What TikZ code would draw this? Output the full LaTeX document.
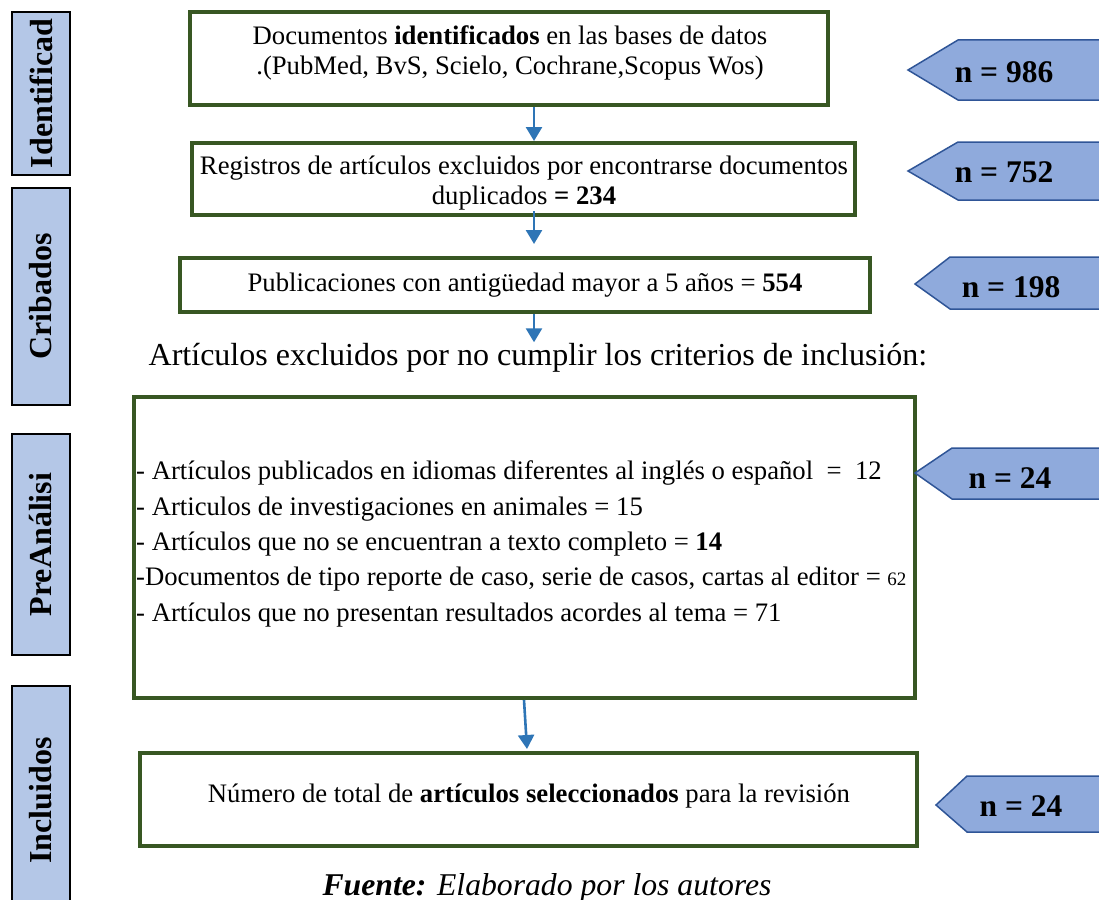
\documentclass[tikz,border=0pt]{standalone}
\usepackage{fontspec}
\setmainfont{Liberation Serif}
\usetikzlibrary{arrows.meta,calc}
\definecolor{boxgreen}{HTML}{385723}
\definecolor{lblfill}{HTML}{B4C7E7}
\definecolor{tagfill}{HTML}{8FAADC}
\definecolor{tagdraw}{HTML}{2F5597}
\definecolor{connblue}{HTML}{2E75B6}
\tikzset{
 gbox/.style={draw=boxgreen, line width=4pt, inner sep=0pt, rectangle},
 btext/.style={font=\fontsize{26.7}{30}\selectfont, align=center, inner sep=0pt},
 lbl/.style={draw=black, line width=1.5pt, fill=lblfill, rotate=90, inner sep=0pt, font=\fontsize{32}{34}\selectfont\bfseries},
 tag/.style={fill=tagfill, draw=tagdraw, line width=1.5pt, line join=miter},
 tagtext/.style={font=\fontsize{31.5}{34}\selectfont\bfseries, inner sep=0pt},
 conn/.style={draw=connblue, line width=2.6pt, -{Triangle[length=14pt,width=16pt]}},
}
\begin{document}
\begin{tikzpicture}[x=1pt,y=-1pt]
\useasboundingbox (0,0) rectangle (1099,899);
% left stage labels
\node[lbl, minimum width=163, minimum height=58] (lid) at (41,93.5) {Identificad};
\node[lbl, minimum width=217, minimum height=58] (lcr) at (41,296.5) {Cribados};
\node[lbl, minimum width=221, minimum height=58] (lpre) at (41,544.5) {PreAnálisi};
\node[lbl, minimum width=229, minimum height=58] (linc) at (41,800.5) {Incluidos};
% green boxes
\node[gbox, minimum width=638, minimum height=93] (b1) at (509,58.5) {};
\node[gbox, minimum width=663, minimum height=72] (b2) at (523.5,179) {};
\node[gbox, minimum width=690, minimum height=54] (b3) at (525,285) {};
\node[gbox, minimum width=781, minimum height=301] (b4) at (524.5,547.5) {};
\node[gbox, minimum width=777, minimum height=93] (b5) at (528.5,799.5) {};
% texts
\node[btext] (t1) at (510,53) {Documentos \textbf{identificados} en las bases de datos\\.(PubMed, BvS, Scielo, Cochrane,Scopus Wos)};
\node[btext] (t2) at (524,183) {Registros de artículos excluidos por encontrarse documentos\\duplicados \textbf{= 234}};
\node[btext] (t3) at (525,285) {Publicaciones con antigüedad mayor a 5 años = \textbf{554}};
\node[inner sep=0pt, font=\fontsize{32}{34}\selectfont] (excl) at (538,358) {Artículos excluidos por no cumplir los criterios de inclusión:};
\node[btext, font=\fontsize{26.7}{35.3}\selectfont, align=left, anchor=west] (t4) at (136,544) {- Artículos publicados en idiomas diferentes al inglés o español~~=~~12\\- Articulos de investigaciones en animales = 15\\- Artículos que no se encuentran a texto completo = \textbf{14}\\-Documentos de tipo reporte de caso, serie de casos, cartas al editor = {\fontsize{19}{19}\selectfont 62}\\- Artículos que no presentan resultados acordes al tema = 71};
\node[btext] (t5) at (529,796) {Número de total de \textbf{artículos seleccionados} para la revisión};
\node[inner sep=0pt, font=\fontsize{31.7}{34}\selectfont\itshape] (cap) at (547,888) {\textbf{Fuente:} Elaborado por los autores};
% connectors
\coordinate (ax) at (534,0);
\draw[conn] (b1.south -| ax) -- (b2.north -| ax);
\draw[conn] ($(b2.south -| ax)+(0,-6)$) -- ($(b3.north -| ax)+(0,-12)$);
\draw[conn] (b3.south -| ax) -- ($(excl.north -| ax)+(0,-1)$);
\coordinate (a4s) at (524,0);
\coordinate (a4e) at (527,0);
\draw[conn] (b4.south -| a4s) -- ($(b5.north -| a4e)+(0,-2)$);
% right tags
\draw[tag] (908,70) -- (958,40) -- (1110,40) -- (1110,100) -- (958,100) -- cycle;
\node[tagtext] (n1) at (1004,72) {n = 986};
\draw[tag] (908,171) -- (958,142) -- (1110,142) -- (1110,200) -- (958,200) -- cycle;
\node[tagtext] (n2) at (1004,172) {n = 752};
\draw[tag] (915,284) -- (950,257) -- (1110,257) -- (1110,309) -- (950,309) -- cycle;
\node[tagtext] (n3) at (1011,287) {n = 198};
\draw[tag] (915,473) -- (952,448) -- (1110,448) -- (1110,499) -- (952,499) -- cycle;
\node[tagtext] (n4) at (1010,478) {n = 24};
\draw[tag] (936,805) -- (967,776) -- (1110,776) -- (1110,832) -- (967,832) -- cycle;
\node[tagtext] (n5) at (1021,806) {n = 24};
\end{tikzpicture}
\end{document}
